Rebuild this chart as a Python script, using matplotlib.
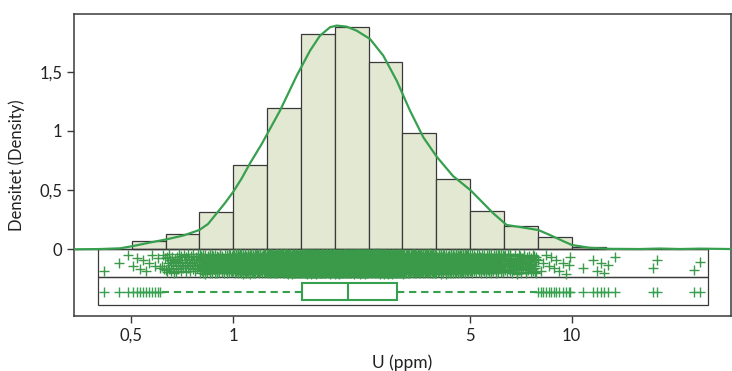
import numpy as np
import matplotlib.pyplot as plt
from matplotlib.patches import Rectangle
from matplotlib.ticker import NullLocator

plt.rcParams['font.family'] = ['Lato', 'DejaVu Sans']

# Histogram of log10(U), bin width 0.1 (density per log10 unit)
bin_edges_log = [-0.3, -0.2, -0.1, 0.0, 0.1, 0.2, 0.3, 0.4, 0.5, 0.6, 0.7, 0.8, 0.9, 1.0, 1.1]
bin_density = [0.073, 0.129, 0.312, 0.712, 1.196, 1.818, 1.875, 1.585, 0.982, 0.594, 0.326, 0.194, 0.101, 0.022]

# Density curve (log10 U, density)
kde_log = [-0.4707, -0.3939, -0.3348, -0.2955, -0.2462, -0.1968, -0.1478, -0.1005, -0.0748, -0.0491,
           -0.0245, 0.0, 0.025, 0.0494, 0.0839, 0.138, 0.1874, 0.2267, 0.2562, 0.2858,
           0.3056, 0.3351, 0.3647, 0.404, 0.4433, 0.4829, 0.5222, 0.5615, 0.6011, 0.6492,
           0.7004, 0.7683, 0.8079, 0.8472, 0.9013, 0.9359, 0.9743, 1.0009, 1.0541, 1.1132,
           1.2019, 1.261, 1.3201, 1.3792, 1.4707]
kde_dens = [0.0, 0.0025, 0.0084, 0.0279, 0.0574, 0.0845, 0.1166, 0.163, 0.2137, 0.304,
            0.391, 0.4865, 0.60, 0.7264, 0.889, 1.171, 1.466, 1.677, 1.804, 1.875,
            1.889, 1.880, 1.846, 1.776, 1.635, 1.424, 1.171, 0.946, 0.7821, 0.6191,
            0.5008, 0.304, 0.2052, 0.1883, 0.163, 0.1208, 0.0701, 0.0363, 0.0127, 0.0042,
            0.0025, 0.0068, 0.0025, 0.0059, 0.0025]

# Box plot stats (ppm)
q1, med, q3 = 1.60, 2.19, 3.04
whis_lo, whis_hi = 0.614, 7.88
out_low = [0.415, 0.460, 0.489, 0.505, 0.519, 0.530, 0.541, 0.552, 0.563, 0.575, 0.587, 0.599, 0.607]
out_high = [7.96, 8.1, 8.25, 8.4, 8.55, 8.7, 8.85, 9.0, 9.2, 9.4, 9.6, 9.8, 9.9,
            10.82, 11.58, 11.90, 12.18, 12.46, 12.78, 13.43, 17.42, 17.91, 23.03, 23.94]

# number of non-outlier points per histogram bin (for the jitter strip)
strip_counts = [4, 52, 124, 284, 478, 728, 750, 634, 392, 238, 130, 78, 0, 0]

green = '#37a04f'
ptgreen = '#3b9a4a'
frame = '#3a3a3a'
data_min, data_max = 0.399, 25.2

fig = plt.figure(figsize=(7.32, 3.71), dpi=100)
ax = fig.add_axes([0.1011, 0.1482, 0.8975, 0.8141])
ax.set_xscale('log')

# histogram
left = 10 ** np.array(bin_edges_log[:-1])
right = 10 ** np.array(bin_edges_log[1:])
ax.bar(left, bin_density, width=right - left, align='edge',
       color='#e2e8d1', edgecolor=frame, linewidth=0.9, zorder=2)

# density curve
ax.plot(10 ** np.array(kde_log), kde_dens, color=green, lw=1.6, zorder=4)

# strip box + box plot frame
ax.add_patch(Rectangle((data_min, -0.236), data_max - data_min, 0.236,
                       fill=False, edgecolor=frame, lw=0.9, zorder=3))
ax.add_patch(Rectangle((data_min, -0.473), data_max - data_min, 0.237,
                       fill=False, edgecolor=frame, lw=0.9, zorder=3))
ax.plot([10 ** -0.4707, data_max], [0, 0], color=frame, lw=1.0, zorder=3)

# jittered points: quasi-random placement inside each bin
g = 1.32471795724
a1, a2 = 1 / g, 1 / g ** 2
sx, sy = [], []
k = 0
lo_clip, hi_clip = np.log10(whis_lo), np.log10(whis_hi)
for i, n in enumerate(strip_counts):
    lo = max(bin_edges_log[i], lo_clip)
    hi = min(bin_edges_log[i + 1], hi_clip)
    for j in range(n):
        k += 1
        sx.append(10 ** (lo + (hi - lo) * ((0.5 + k * a1) % 1)))
        sy.append(-0.035 - 0.17 * ((0.5 + k * a2) % 1))
for v in out_low + out_high:
    k += 1
    sx.append(v)
    sy.append(-0.045 - 0.16 * ((0.5 + k * a2) % 1))
ax.plot(sx, sy, linestyle='none', marker='+', markersize=7.5, mew=1.0,
        color=ptgreen, zorder=3.5)

# box plot
stats = [dict(med=med, q1=q1, q3=q3, whislo=whis_lo, whishi=whis_hi,
              fliers=out_low + out_high)]
ax.bxp(stats, positions=[-0.358], widths=0.141, orientation='horizontal',
       patch_artist=True, showcaps=False, manage_ticks=False,
       boxprops=dict(facecolor='white', edgecolor=green, lw=1.5),
       whiskerprops=dict(color=green, lw=1.5, linestyle=(0, (3.5, 2.3))),
       medianprops=dict(color=green, lw=1.5),
       flierprops=dict(marker='+', markeredgecolor=green, markersize=7.5, mew=1.0))

ax.set_xlim(10 ** -0.4707, 10 ** 1.4707)
ax.set_ylim(-0.563, 1.987)
ax.set_xticks([0.5, 1, 5, 10])
ax.set_xticklabels(['0,5', '1', '5', '10'])
ax.xaxis.set_minor_locator(NullLocator())
ax.set_yticks([0, 0.5, 1, 1.5])
ax.set_yticklabels(['0', '0,5', '1', '1,5'])
ax.tick_params(direction='out', length=5, width=1, color=frame, labelsize=12,
               labelcolor='#222222')
for s in ax.spines.values():
    s.set_color(frame)
    s.set_linewidth(1.1)

ax.set_xlabel('U (ppm)', fontsize=12.5, color='#222222')
ax.set_ylabel('Densitet (Density)', fontsize=12, color='#222222')
ax.xaxis.set_label_coords(0.5, -0.127)
ax.yaxis.set_label_coords(-0.0746, 0.5)

fig.savefig('out.png', dpi=100)
